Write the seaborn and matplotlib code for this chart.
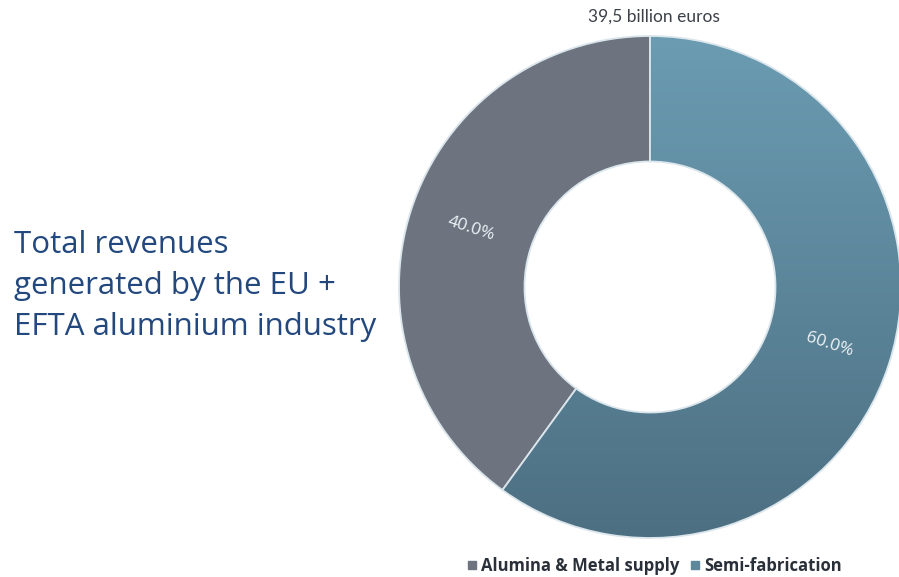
import numpy as np
import matplotlib
matplotlib.use("Agg")
import matplotlib.pyplot as plt
from matplotlib.lines import Line2D
import seaborn as sns

# Revenue split of the EU + EFTA aluminium industry
categories = ["Alumina & Metal supply", "Semi-fabrication"]
shares = [40.0, 60.0]
total_label = "39,5 billion euros"
title_lines = ["Total revenues", "generated by the EU +", "EFTA aluminium industry"]

sns.set_theme(style="white")
plt.rcParams["font.family"] = ["Lato", "DejaVu Sans"]

gray = "#6d7480"
blue_top = "#6b9cb2"
blue_bottom = "#4d6f82"
palette = sns.color_palette([gray, "#5d879b"])

W, H = 899, 577
fig = plt.figure(figsize=(W / 100, H / 100), dpi=100)
fig.patch.set_facecolor("white")

# Square axes holding the ring (centre ~ (650, 287) px, radius 251 px)
cx, cy, R = 650, 287, 251
ax = fig.add_axes([(cx - R) / W, (H - cy - R) / H, 2 * R / W, 2 * R / H])
ax.set_xlim(-1, 1)
ax.set_ylim(-1, 1)
ax.set_aspect("equal")
ax.axis("off")

wedges, _, autotexts = ax.pie(
    shares,
    colors=palette,
    startangle=90,
    counterclock=True,
    radius=1.0,
    autopct="%.1f%%",
    pctdistance=0.75,
    wedgeprops=dict(width=0.5, edgecolor="#dbe6ec", linewidth=1.3),
    textprops=dict(color="#eef3f6", fontsize=12.5, family=["Open Sans", "DejaVu Sans"]),
)

# Vertical shading on the semi-fabrication segment
semi = wedges[1]
semi.set_facecolor("none")
semi.set_zorder(3)
grad = sns.blend_palette([blue_top, blue_bottom], n_colors=256, as_cmap=True)
img = ax.imshow(
    np.linspace(0, 1, 256).reshape(-1, 1),
    cmap=grad,
    extent=[-1, 1, -1, 1],
    origin="upper",
    aspect="auto",
    zorder=2,
)
img.set_clip_path(semi)
ax.set_xlim(-1, 1)
ax.set_ylim(-1, 1)

# Rotate the percentage labels along their wedge's radius
for w, t in zip(wedges, autotexts):
    mid = (w.theta1 + w.theta2) / 2.0
    rot = mid - 180 if 90 < mid < 270 else mid - 360 if mid > 270 else mid
    t.set_rotation(rot)
    t.set_rotation_mode("anchor")
    t.set_ha("center")
    t.set_va("center")
    t.set_zorder(5)

# Total above the ring
fig.text(654 / W, 1 - 17 / H, total_label, ha="center", va="center",
         fontsize=12.5, color="#3c4048")

# Heading on the left
for i, line in enumerate(title_lines):
    fig.text(14 / W, 1 - (253 + 41 * i) / H, line, ha="left", va="baseline",
             fontsize=22.5, color="#22487e", family=["Open Sans", "DejaVu Sans"])

# Legend below the ring
handles = [Line2D([0], [0], marker="s", linestyle="none", markersize=6,
                  markerfacecolor=c, markeredgecolor=c)
           for c in [gray, "#5d879b"]]
leg = fig.legend(handles, categories, loc="center", bbox_to_anchor=(655 / W, 1 - 566 / H),
                 ncol=2, frameon=False, handlelength=0.5, handletextpad=0.3,
                 columnspacing=0.7,
                 prop=dict(family=["Open Sans", "DejaVu Sans"], weight="bold", size=12))
for t in leg.get_texts():
    t.set_color("#2a3039")

fig.savefig("out.png", dpi=100, facecolor="white")
